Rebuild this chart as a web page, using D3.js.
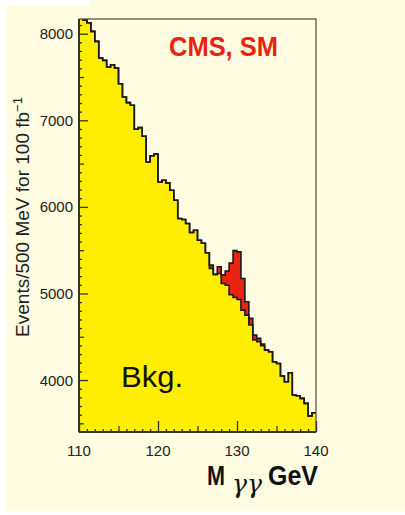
<!DOCTYPE html>
<html>
<head>
<meta charset="utf-8">
<script src="https://cdn.jsdelivr.net/npm/d3@7"></script>
<style>
    body { margin: 0; background: #ffffff; }
    svg { display: block; }
    text { font-family: "Liberation Sans", Arial, Helvetica, sans-serif; }
</style>
</head>
<body>
<div id="chart"></div>
<script>
// M(gamma gamma) histogram, 0.5 GeV bins from 110 to 140 GeV
var binStart = 110,
    binWidth = 0.5;

// background events per bin
var bkg = [
    8190, 8160, 8127, 8027, 7912, 7719, 7692, 7615, 7642, 7604,
    7423, 7269, 7204, 7173, 6896, 6915, 6815, 6519, 6590, 6610,
    6288, 6308, 6277, 6192, 6077, 5865, 5854, 5808, 5704, 5731,
    5615, 5580, 5470, 5290, 5220, 5230, 5115, 5095, 4985, 4955,
    4930, 4808, 4750, 4635, 4462, 4442, 4396, 4346, 4327, 4212,
    4192, 4046, 3981, 4085, 3827, 3819, 3788, 3731, 3585, 3623
];

// signal events stacked on top of the background
var sig = [
    0, 0, 0, 0, 0, 0, 0, 0, 0, 0,
    0, 0, 0, 0, 0, 0, 0, 0, 0, 0,
    0, 0, 0, 0, 0, 0, 0, 0, 0, 0,
    0, 0, 0, 37, 0, 78, 100, 165, 365, 540,
    550, 365, 154, 77, 57, 39, 19, 0, 0, 0,
    0, 0, 0, 0, 0, 0, 0, 0, 0, 0
];

var xTickLabels = [110, 120, 130, 140];
var yTickLabels = [4000, 5000, 6000, 7000, 8000];

var width = 405,
    height = 515;

// note: "top" is taken by window.top, so prefix these
var plotLeft = 79, plotRight = 316, plotTop = 19, plotBottom = 432;

var x = d3.scaleLinear().domain([110, 140]).range([plotLeft, plotRight]);
var y = d3.scaleLinear().domain([3400, 8170]).range([plotBottom, plotTop]);

var svg = d3.select("#chart")
    .append("svg")
    .attr("width", width)
    .attr("height", height);

// cream page
svg.append("rect")
    .attr("x", 6).attr("y", 5)
    .attr("width", width - 6).attr("height", height - 9)
    .attr("fill", "#fffce1");
svg.append("rect")
    .attr("x", 90).attr("y", 0)
    .attr("width", width - 90).attr("height", 6)
    .attr("fill", "#fffce1");

svg.append("clipPath")
    .attr("id", "plotclip")
    .append("rect")
    .attr("x", plotLeft).attr("y", plotTop)
    .attr("width", plotRight - plotLeft).attr("height", plotBottom - plotTop);

// bin edges -> step points (last value repeated at 140)
var pts = bkg.map(function(v, i) {
    return { x: binStart + i * binWidth, b: v, t: v + sig[i] };
});
pts.push({ x: binStart + bkg.length * binWidth, b: bkg[bkg.length - 1], t: bkg[bkg.length - 1] + sig[sig.length - 1] });

var plot = svg.append("g").attr("clip-path", "url(#plotclip)");

var bkgArea = d3.area()
    .curve(d3.curveStepAfter)
    .x(function(d) { return x(d.x); })
    .y0(plotBottom)
    .y1(function(d) { return y(d.b); });

var sigArea = d3.area()
    .curve(d3.curveStepAfter)
    .x(function(d) { return x(d.x); })
    .y0(function(d) { return y(d.b); })
    .y1(function(d) { return y(d.t); });

plot.append("path")
    .attr("d", bkgArea(pts))
    .attr("fill", "#ffee00");

plot.append("path")
    .attr("d", sigArea(pts))
    .attr("fill", "#e8230f");

var bkgLine = d3.line()
    .curve(d3.curveStepAfter)
    .x(function(d) { return x(d.x); })
    .y(function(d) { return y(d.b); });

var totLine = d3.line()
    .curve(d3.curveStepAfter)
    .x(function(d) { return x(d.x); })
    .y(function(d) { return y(d.t); });

plot.append("path")
    .attr("d", bkgLine(pts))
    .attr("fill", "none")
    .attr("stroke", "#1a1a1a")
    .attr("stroke-width", 1.6);

plot.append("path")
    .attr("d", totLine(pts))
    .attr("fill", "none")
    .attr("stroke", "#1a1a1a")
    .attr("stroke-width", 1.6);

// frame
svg.append("rect")
    .attr("x", plotLeft).attr("y", plotTop)
    .attr("width", plotRight - plotLeft).attr("height", plotBottom - plotTop)
    .attr("fill", "none")
    .attr("stroke", "#4a4a3a")
    .attr("stroke-width", 1.2);

// axes, ticks pointing into the plot
var yAxisMinor = d3.axisRight(y)
    .tickValues(d3.range(3500, 8200, 100).filter(function(v) { return v % 500 != 0; }))
    .tickSize(3).tickFormat("");
var yAxisMid = d3.axisRight(y)
    .tickValues(d3.range(3500, 8200, 1000))
    .tickSize(5).tickFormat("");
var yAxisMajor = d3.axisRight(y)
    .tickValues(yTickLabels)
    .tickSize(9).tickFormat("");

[yAxisMinor, yAxisMid, yAxisMajor].forEach(function(ax) {
    var g = svg.append("g")
        .attr("transform", "translate(" + plotLeft + ",0)")
        .call(ax);
    g.select(".domain").remove();
    g.selectAll("line").attr("stroke", "#333").attr("stroke-width", 1.3);
});

var xAxisMinor = d3.axisTop(x)
    .tickValues(d3.range(111, 140, 1).filter(function(v) { return v % 5 != 0; }))
    .tickSize(3).tickFormat("");
var xAxisMid = d3.axisTop(x)
    .tickValues([115, 125, 135])
    .tickSize(6).tickFormat("");
var xAxisMajor = d3.axisTop(x)
    .tickValues(xTickLabels)
    .tickSize(11).tickFormat("");

[xAxisMinor, xAxisMid, xAxisMajor].forEach(function(ax) {
    var g = svg.append("g")
        .attr("transform", "translate(0," + plotBottom + ")")
        .call(ax);
    g.select(".domain").remove();
    g.selectAll("line").attr("stroke", "#333").attr("stroke-width", 1.3);
});

// axis lines a bit heavier on left and bottom
svg.append("line")
    .attr("x1", plotLeft).attr("x2", plotLeft).attr("y1", plotTop).attr("y2", plotBottom)
    .attr("stroke", "#333").attr("stroke-width", 2);
svg.append("line")
    .attr("x1", plotLeft).attr("x2", plotRight).attr("y1", plotBottom).attr("y2", plotBottom)
    .attr("stroke", "#333").attr("stroke-width", 2);

// tick labels
svg.selectAll(".ylab")
    .data(yTickLabels)
    .enter()
    .append("text")
    .attr("class", "ylab")
    .attr("x", 73)
    .attr("y", function(d) { return y(d) + 5.5; })
    .attr("text-anchor", "end")
    .attr("font-size", 15)
    .attr("fill", "#222")
    .text(function(d) { return d; });

svg.selectAll(".xlab")
    .data(xTickLabels)
    .enter()
    .append("text")
    .attr("class", "xlab")
    .attr("x", function(d) { return x(d); })
    .attr("y", 456)
    .attr("text-anchor", "middle")
    .attr("font-size", 15)
    .attr("fill", "#222")
    .text(function(d) { return d; });

// y title
var yt = svg.append("text")
    .attr("transform", "translate(29,217) rotate(-90)")
    .attr("text-anchor", "middle")
    .attr("font-size", 19)
    .attr("fill", "#222");
yt.append("tspan").text("Events/500 MeV for 100 fb");
yt.append("tspan")
    .attr("dy", -7)
    .attr("font-size", 13)
    .text("−1");

// labels in the plot
svg.append("text")
    .attr("x", 169).attr("y", 56)
    .attr("font-size", 28)
    .attr("font-weight", "bold")
    .attr("fill", "#e8230f")
    .attr("textLength", 109)
    .attr("lengthAdjust", "spacingAndGlyphs")
    .text("CMS, SM");

svg.append("text")
    .attr("x", 121).attr("y", 387)
    .attr("font-size", 30)
    .attr("fill", "#111")
    .attr("textLength", 62)
    .attr("lengthAdjust", "spacingAndGlyphs")
    .text("Bkg.");

// x title: M γγ GeV
svg.append("text")
    .attr("x", 207).attr("y", 485)
    .attr("font-size", 27)
    .attr("font-weight", "bold")
    .attr("fill", "#111")
    .attr("textLength", 18)
    .attr("lengthAdjust", "spacingAndGlyphs")
    .text("M");

svg.append("text")
    .attr("x", 232).attr("y", 493)
    .attr("font-size", 26)
    .attr("font-style", "italic")
    .attr("fill", "#111")
    .style("font-family", "'DejaVu Serif', serif")
    .attr("textLength", 30)
    .attr("lengthAdjust", "spacingAndGlyphs")
    .text("γγ");

svg.append("text")
    .attr("x", 268).attr("y", 485)
    .attr("font-size", 27)
    .attr("font-weight", "bold")
    .attr("fill", "#111")
    .attr("textLength", 50)
    .attr("lengthAdjust", "spacingAndGlyphs")
    .text("GeV");
</script>
</body>
</html>
